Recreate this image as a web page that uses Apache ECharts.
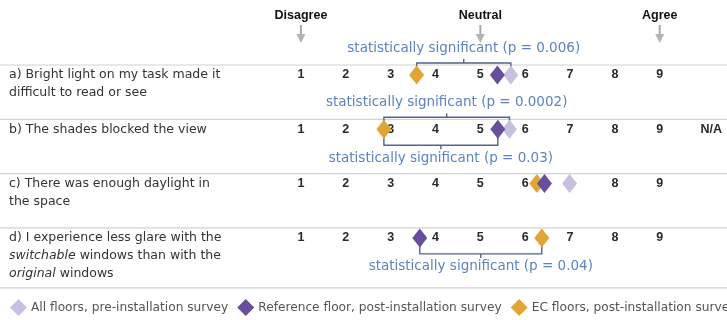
<!DOCTYPE html>
<html><head><meta charset="utf-8">
<script src="https://cdn.jsdelivr.net/npm/echarts@6/dist/echarts.min.js"></script>
<style>html,body{margin:0;padding:0;background:#fff}#c{width:727px;height:320px}</style>
</head><body><div id="c"></div>
<script>
const questions = [
  'a) Bright light on my task made it\ndifficult to read or see',
  'b) The shades blocked the view',
  'c) There was enough daylight in\nthe space',
  'd) I experience less glare with the\n{i|switchable} windows than with the\n{i|original} windows'
];
const scaleTicks = [1, 2, 3, 4, 5, 6, 7, 8, 9];
const anchorLabels = ['Disagree', 'Neutral', 'Agree'];
const anchorValues = [1, 5, 9];
const naLabel = 'N/A';
const naRows = [1];
const naValue = 10.15;
const seriesNames = ['All floors, pre-installation survey', 'Reference floor, post-installation survey', 'EC floors, post-installation survey'];
const preAll = [5.68, 5.65, 6.99, null];
const refPost = [5.38, 5.39, 6.43, 3.65];
const ecPost = [3.58, 2.85, 6.26, 6.37];
const sigRow = [0, 1, 1, 3];
const sigFrom = ['ec', 'ec', 'ec', 'ref'];
const sigTo = ['pre', 'pre', 'ref', 'ec'];
const sigP = ['0.006', '0.0002', '0.03', '0.04'];
const sigSide = ['above', 'above', 'below', 'below'];

const FONT = "'Liberation Sans', Arial, sans-serif";
const WIDE = "'DejaVu Sans', sans-serif";
const colors = { pre: '#c9bfe0', ref: '#6a4e9e', ec: '#e1a536' };
const valueOf = { pre: preAll, ref: refPost, ec: ecPost };
const ROW_PX = 54.3, ROW0 = 75;

const chart = echarts.init(document.getElementById('c'), null, { renderer: 'canvas' });

function pts(arr) { return arr.map((v, i) => v == null ? null : [v, i]).filter(d => d); }

const numberData = [];
questions.forEach((q, r) => scaleTicks.forEach(t => numberData.push([t, r, String(t)])));
naRows.forEach(r => numberData.push([naValue, r, naLabel]));

const sigData = sigRow.map((r, i) => [valueOf[sigFrom[i]][r], valueOf[sigTo[i]][r], r, i]);

const option = {
  animation: false,
  grid: { left: 278.5, width: 449, top: 0, height: 320 },
  xAxis: { type: 'value', min: 0.5, max: 10.5, show: false },
  yAxis: { type: 'value', inverse: true, min: -ROW0 / ROW_PX, max: (320 - ROW0) / ROW_PX, show: false },
  legend: {
    data: seriesNames.map(n => ({ name: n, icon: 'diamond' })),
    left: 5, top: 294, width: 1200, itemWidth: 17, itemHeight: 17, itemGap: 9,
    textStyle: { fontFamily: WIDE, fontSize: 12.2, color: '#555', padding: [0, 0, 0, -1] }
  },
  series: [
    { // separators
      type: 'custom', silent: true, clip: false, z: 1,
      data: [0, 1, 2, 3, 4],
      renderItem(params, api) {
        const r = api.value(0);
        let y;
        if (r < questions.length) y = api.coord([1, r])[1] - 10;
        else y = api.coord([1, questions.length - 1])[1] + 50;
        return { type: 'line', shape: { x1: 0, y1: y, x2: 727, y2: y }, style: { stroke: '#d2d2d2', lineWidth: 1.2 } };
      }
    },
    { // question labels
      type: 'custom', silent: true, clip: false,
      data: questions.map((q, i) => [i]),
      renderItem(params, api) {
        const r = api.value(0);
        const y = api.coord([1, r])[1];
        return { type: 'text', x: 9, y: y - 9, style: {
          text: questions[r], fontFamily: WIDE, fontSize: 12.5, fill: '#333', lineHeight: 18,
          verticalAlign: 'top', align: 'left',
          rich: { i: { fontStyle: 'italic', fontFamily: WIDE, fontSize: 12.5, fill: '#333', lineHeight: 18 } }
        } };
      }
    },
    { // header anchors
      type: 'custom', silent: true, clip: false,
      data: anchorValues.map((v, i) => [v, i]),
      renderItem(params, api) {
        const p = api.coord([api.value(0), 0]);
        const x = p[0], y = p[1];
        return { type: 'group', children: [
          { type: 'text', x: x, y: y - 59, style: { text: anchorLabels[api.value(1)], fontFamily: FONT, fontWeight: 'bold', fontSize: 12.5, fill: '#111', align: 'center', verticalAlign: 'middle' } },
          { type: 'line', shape: { x1: x, y1: y - 50, x2: x, y2: y - 40 }, style: { stroke: '#a9a9a9', lineWidth: 2 } },
          { type: 'polygon', shape: { points: [[x - 4.5, y - 41], [x + 4.5, y - 41], [x, y - 32]] }, style: { fill: '#b3b3b3' } }
        ] };
      }
    },
    { // scale numbers
      type: 'custom', silent: true, clip: false,
      data: numberData,
      renderItem(params, api) {
        const p = api.coord([api.value(0), api.value(1)]);
        return { type: 'text', x: p[0], y: p[1], style: { text: numberData[params.dataIndex][2], fontFamily: FONT, fontSize: 12.5, fontWeight: 'bold', fill: '#2a2a2a', align: 'center', verticalAlign: 'middle' } };
      }
    },
    { // significance brackets
      type: 'custom', silent: true, clip: false,
      data: sigData,
      renderItem(params, api) {
        const a = api.coord([api.value(0), api.value(2)]);
        const b = api.coord([api.value(1), api.value(2)]);
        const i = api.value(3);
        const y = a[1];
        const above = sigSide[i] === 'above';
        const hy = above ? y - 12 : y + 16;
        const ey = above ? y - 6 : y + 8;
        const ty = above ? hy - 4 : hy + 4;
        const x1 = Math.min(a[0], b[0]), x2 = Math.max(a[0], b[0]);
        const mid = (x1 + x2) / 2;
        const textY = above ? y - 27 : y + 29;
        const st = { stroke: '#56628f', lineWidth: 1.4 };
        return { type: 'group', children: [
          { type: 'polyline', shape: { points: [[x1, ey], [x1, hy], [x2, hy], [x2, ey]] }, style: Object.assign({ fill: null }, st) },
          { type: 'line', shape: { x1: mid, y1: hy, x2: mid, y2: ty }, style: st },
          { type: 'text', x: mid, y: textY, style: { text: 'statistically significant (p = ' + sigP[i] + ')', fontFamily: WIDE, fontSize: 13.5, fill: '#5c83c2', align: 'center', verticalAlign: 'middle' } }
        ] };
      }
    },
    { name: seriesNames[0], type: 'scatter', symbol: 'diamond', symbolSize: [15, 19], clip: false, itemStyle: { color: colors.pre, opacity: 1 }, data: pts(preAll) },
    { name: seriesNames[2], type: 'scatter', symbol: 'diamond', symbolSize: [15, 19], clip: false, itemStyle: { color: colors.ec, opacity: 1 }, data: pts(ecPost) },
    { name: seriesNames[1], type: 'scatter', symbol: 'diamond', symbolSize: [15, 19], clip: false, itemStyle: { color: colors.ref, opacity: 1 }, data: pts(refPost) }
  ]
};
chart.setOption(option);
</script>
</body></html>
